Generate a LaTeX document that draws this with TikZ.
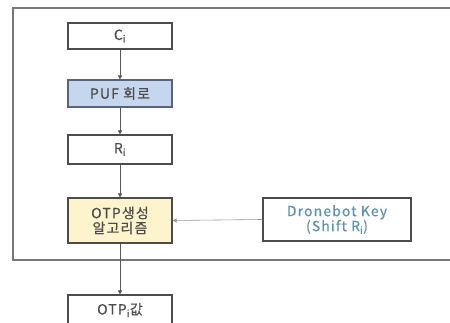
\documentclass[tikz,border=0pt]{standalone}
\usepackage{fontspec}
\setmainfont{Noto Sans CJK KR}[LetterSpace=8, FakeBold=0.5]
\usetikzlibrary{arrows.meta}
\definecolor{pufblue}{RGB}{197,214,238}
\definecolor{pufedge}{RGB}{90,100,120}
\definecolor{otpyel}{RGB}{253,244,206}
\definecolor{keytext}{RGB}{95,145,175}
\definecolor{framegray}{RGB}{120,120,120}
\tikzset{
  boxstyle/.style={draw=black!70, line width=1.1pt, minimum width=104pt, inner sep=0pt, font=\fontsize{14}{15}\selectfont, text=black!70, align=center},
  conn/.style={draw=black!65, line width=0.6pt, -{Triangle[length=4pt,width=4pt]}}
}
\begin{document}
\begin{tikzpicture}[x=1pt,y=-1pt]
\useasboundingbox (0,0) rectangle (450,323);
\draw[framegray, line width=1.3pt] (455,8) -- (13,8) -- (13,260) -- (455,260);
\node[boxstyle, minimum height=26pt] (c) at (120,36) {C\textsubscript{i}};
\node[boxstyle, minimum height=27pt, fill=pufblue, draw=pufedge] (puf) at (120,93.5) {PUF 회로};
\node[boxstyle, minimum height=29pt] (r) at (120,149.5) {R\textsubscript{i}};
\node[boxstyle, minimum height=45pt, fill=otpyel] (otp) at (120,220.5) {OTP생성\\알고리즘};
\node[boxstyle, minimum height=30pt] (otpi) at (120,310) {OTP\textsubscript{i}값};
\node[boxstyle, minimum width=148pt, minimum height=43pt, text=keytext] (key) at (337,219.5) {Dronebot Key\\(Shift R\textsubscript{i})};
\draw[conn] (c) -- (puf);
\draw[conn] (puf) -- (r);
\draw[conn] (r) -- (otp);
\draw[conn] (otp) -- (otpi);
\draw[conn, draw=black!40] (key.west) -- (otp.east);
\end{tikzpicture}
\end{document}
